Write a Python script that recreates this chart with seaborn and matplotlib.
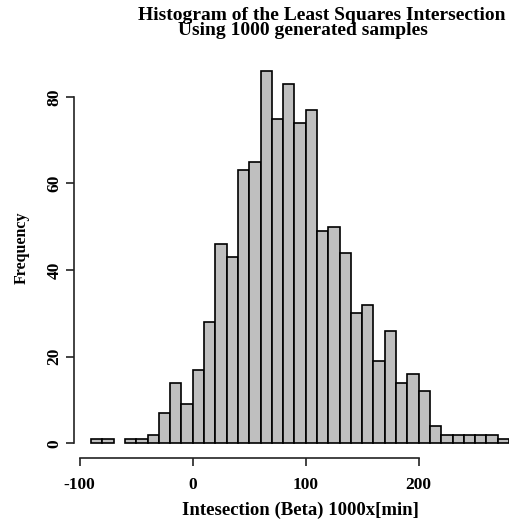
import numpy as np
import pandas as pd
import matplotlib
matplotlib.use("Agg")
import matplotlib.pyplot as plt
import seaborn as sns

# Bin counts (bin width 10, from -90 to 280)
bin_edges = list(range(-90, 290, 10))
counts = [1, 1, 0, 1, 1, 2, 7, 14, 9, 17, 28, 46, 43, 63, 65, 86, 75, 83, 74,
          77, 49, 50, 44, 30, 32, 19, 26, 14, 16, 12, 4, 2, 2, 2, 2, 2, 1]
bin_centers = [(a + b) / 2 for a, b in zip(bin_edges[:-1], bin_edges[1:])]
x_ticks = [-100, 0, 100, 200]
y_ticks = [0, 20, 40, 60, 80]

title_line1 = "Histogram of the Least Squares Intersection"
title_line2 = "Using 1000 generated samples"
x_label = "Intesection (Beta) 1000x[min]"
y_label = "Frequency"

df = pd.DataFrame({"center": bin_centers, "count": counts})

sns.set_style("ticks")
plt.rcParams['font.family'] = ['Liberation Serif', 'DejaVu Serif']
plt.rcParams['font.weight'] = 'bold'
plt.rcParams['text.color'] = 'black'

W, H = 509, 527
fig = plt.figure(figsize=(W / 100, H / 100), dpi=100)
fig.patch.set_facecolor('white')

left_px, right_px, top_px, bottom_px = 74.3, 525.8, 56.0, 458.2
ax = fig.add_axes([left_px / W, 1 - bottom_px / H,
                   (right_px - left_px) / W, (bottom_px - top_px) / H])

sns.histplot(data=df, x="center", weights="count", bins=bin_edges, ax=ax,
             color='#bfbfbf', edgecolor='black', linewidth=1.2, alpha=1.0)

for p in ax.patches:
    if p.get_height() == 0:
        p.set_visible(False)

ax.set_xlim(-104.8, 294.8)
ax.set_ylim(-3.44, 89.44)
ax.set_facecolor('white')
for s in ['top', 'right']:
    ax.spines[s].set_visible(False)
ax.spines['left'].set_bounds(0, 80)
ax.spines['bottom'].set_bounds(-100, 200)
for s in ['left', 'bottom']:
    ax.spines[s].set_linewidth(1.2)
    ax.spines[s].set_color('#222222')

ax.set_xticks(x_ticks)
ax.set_xticklabels([str(v) for v in x_ticks])
ax.set_yticks(y_ticks)
ax.set_yticklabels([str(v) for v in y_ticks], rotation=90, va='center')
ax.tick_params(axis='both', direction='out', length=5.5, width=1.2,
               colors='#222222', labelsize=12.5)
ax.tick_params(axis='x', pad=8)
ax.tick_params(axis='y', pad=3)
for lab in ax.get_xticklabels() + ax.get_yticklabels():
    lab.set_fontweight('bold')
    lab.set_color('black')

ax.set_xlabel("")
ax.set_ylabel("")

fig.text(322 / W, 1 - 7 / H, title_line1 + "\n" + title_line2 + " " * 8,
         ha='center', va='top', multialignment='center', linespacing=0.82,
         fontsize=14, fontweight='bold', color='black')
fig.text(300 / W, 1 - 515 / H, x_label, ha='center', va='baseline',
         fontsize=13.5, fontweight='bold', color='black')
fig.text(22 / W, 1 - 248 / H, y_label, ha='center', va='center',
         rotation=90, fontsize=11.5, fontweight='bold', color='black')

fig.savefig("out.png", dpi=100, facecolor='white')
